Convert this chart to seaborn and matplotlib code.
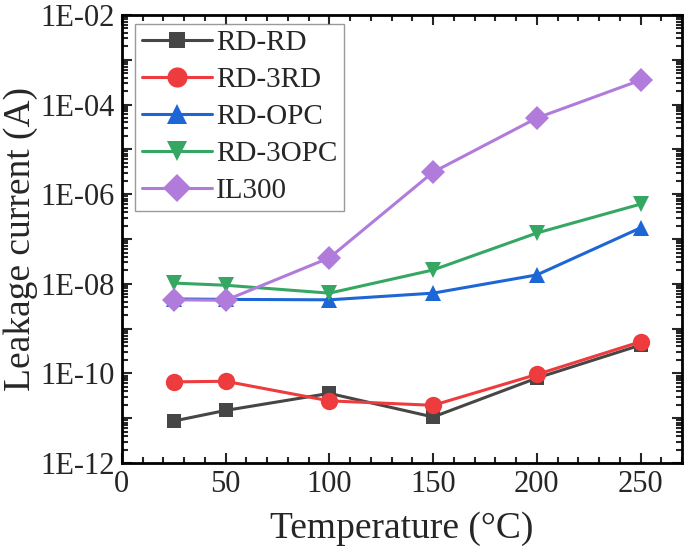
import math
import matplotlib
matplotlib.use('Agg')
import pandas as pd
import matplotlib.pyplot as plt
import seaborn as sns
from matplotlib.ticker import LogLocator, MultipleLocator, FuncFormatter, NullFormatter

temperature = [25, 50, 100, 150, 200, 250]
rd_rd = [8.7e-12, 1.5e-11, 3.6e-11, 1.07e-11, 7.9e-11, 4.3e-10]
rd_3rd = [6.5e-11, 6.7e-11, 2.45e-11, 1.95e-11, 9.5e-11, 5.1e-10]
rd_opc = [4.6e-9, 4.5e-9, 4.4e-9, 6.2e-9, 1.58e-8, 1.77e-7]
rd_3opc = [1.04e-8, 9.3e-9, 6.2e-9, 2.04e-8, 1.36e-7, 6.0e-7]
il300 = [4.4e-9, 4.3e-9, 3.8e-8, 3.1e-6, 5.0e-5, 3.5e-4]

names = ["RD-RD", "RD-3RD", "RD-OPC", "RD-3OPC", "IL300"]
series = [rd_rd, rd_3rd, rd_opc, rd_3opc, il300]
colors = ["#464646", "#ee3b3d", "#1d66d6", "#36a763", "#b07bdb"]
markers = ["s", "o", "^", "v", "D"]
msizes = [10, 12.5, 12, 12, 12]

rows = []
for name, vals in zip(names, series):
    for t, v in zip(temperature, vals):
        rows.append({"Temperature": t, "Current": v, "Sample": name})
df = pd.DataFrame(rows)

sns.set_style("ticks")
plt.rcParams['font.family'] = ['Liberation Serif', 'DejaVu Serif']

fig = plt.figure(figsize=(6.85, 5.52), dpi=100)
ax = fig.add_axes([0.178, 0.161, 0.8176, 0.812])

sns.lineplot(data=df, x="Temperature", y="Current", hue="Sample", style="Sample",
             hue_order=names, style_order=names, palette=colors,
             markers=dict(zip(names, markers)), dashes=False,
             linewidth=2.2, markersize=11, markeredgewidth=0, ax=ax)
for ln, ms in zip(ax.lines, msizes):
    ln.set_markersize(ms)

ax.set_yscale('log')
ax.set_ylim(1e-12, 1e-2)
ax.set_xlim(0, 270)
ax.xaxis.set_major_locator(MultipleLocator(50))
ax.xaxis.set_minor_locator(MultipleLocator(10))
ax.yaxis.set_major_locator(LogLocator(base=10, numticks=20))
ax.yaxis.set_minor_locator(LogLocator(base=10, subs=range(2, 10), numticks=100))


def fmt(v, pos):
    e = round(math.log10(v))
    return "1E-%02d" % -e if e % 2 == 0 else ""


ax.yaxis.set_major_formatter(FuncFormatter(fmt))
ax.yaxis.set_minor_formatter(NullFormatter())

ax.tick_params(which='both', direction='in', top=True, right=True, labelsize=22, width=1.5)
ax.tick_params(which='major', length=7, pad=5)
ax.tick_params(which='minor', length=4)
for s in ax.spines.values():
    s.set_linewidth(2)
    s.set_color('black')

ax.set_xlabel("Temperature (°C)", fontsize=27, labelpad=9)
ax.set_ylabel("Leakage current (A)", fontsize=27, labelpad=2)

leg = ax.legend(loc='upper left', fontsize=21, frameon=True, fancybox=False,
                edgecolor='#808080', handlelength=2.4, borderaxespad=0.3,
                labelspacing=0.36, handletextpad=0.15, borderpad=0.22,
                bbox_to_anchor=(0.008, 1.0))
leg.get_frame().set_linewidth(1.0)
for h, ms in zip(leg.get_lines(), msizes):
    h.set_markersize(ms + 2)

fig.savefig("out.png", dpi=100)
